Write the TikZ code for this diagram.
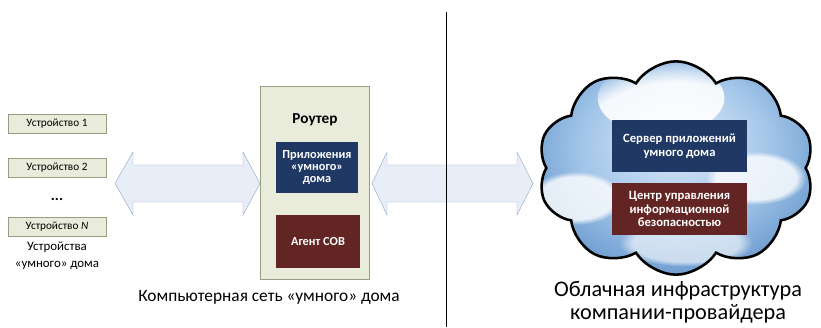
\documentclass[tikz,border=0pt]{standalone}
\usepackage{fontspec}
\setmainfont{Carlito}
\usepackage{xcolor}
\usetikzlibrary{shapes.geometric, shapes.symbols, positioning, calc, fadings}

\definecolor{devfill}{RGB}{233,236,218}
\definecolor{devdraw}{RGB}{150,158,130}
\definecolor{appblue}{RGB}{31,56,100}
\definecolor{secred}{RGB}{99,37,35}
\definecolor{arrfill}{RGB}{232,238,247}
\definecolor{arrdraw}{RGB}{150,170,200}
\definecolor{cloudin}{RGB}{225,236,248}
\definecolor{cloudmid}{RGB}{160,196,232}
\definecolor{cloudout}{RGB}{95,145,200}

\pgfdeclareradialshading{cloudshade}{\pgfpoint{0bp}{8bp}}{color(0bp)=(cloudin); color(18bp)=(cloudmid); color(32bp)=(cloudout); color(50bp)=(cloudout)}

\begin{document}
\begin{tikzpicture}[
    x=0.03cm, y=-0.03cm,
    node distance=0.72cm,
    device/.style={rectangle, draw=devdraw, fill=devfill, minimum width=2.94cm, minimum height=0.57cm, inner sep=0pt, font=\fontsize{9.6}{10}\selectfont},
    router/.style={rectangle, draw=devdraw, fill=devfill, minimum width=3.27cm, minimum height=5.79cm},
    app/.style={rectangle, fill=appblue, text=white, inner sep=0pt, align=center, font=\bfseries\fontsize{10.5}{10}\selectfont},
    sec/.style={rectangle, fill=secred, text=white, inner sep=0pt, align=center, font=\bfseries\fontsize{10.5}{10}\selectfont},
    link/.style={draw=arrdraw, fill=arrfill, thin},
    puff/.style={white, path fading=circle with fuzzy edge 20 percent},
    caption/.style={align=center}
]
\useasboundingbox (0,0) rectangle (821,327);

% smart home devices
\node[device] (dev1) at (57,124) {Устройство 1};
\node[device, below=of dev1] (dev2) {Устройство 2};
\node[font=\bfseries\fontsize{13}{14}\selectfont] (dots) at (57,199) {...};
\node[device] (devN) at (57,226.5) {Устройство \textit{N}};
\node[align=center, font=\fontsize{11}{14}\selectfont, below=0.05cm of devN] (devlabel) {Устройства\\«умного» дома};

% router
\node[router] (router) at (314.5,182.5) {};
\node[font=\bfseries\fontsize{13}{14}\selectfont] (routerlabel) at (315,120) {Роутер};
\node[app, minimum width=2.46cm, minimum height=1.53cm] (apps) at (317,167.5) {Приложения\\«умного»\\дома};
\node[sec, minimum width=2.5cm, minimum height=1.59cm] (agent) at (318,241.5) {Агент СОВ};

% cloud
\node[cloud, cloud puffs=10, cloud puff arc=115, cloud ignores aspect, minimum width=8.3cm, minimum height=6.4cm,
      draw=black, line width=2.2pt, shading=cloudshade,
      path picture={
        \fill[puff, opacity=0.9] ($(path picture bounding box.center)+(-15,-70)$) ellipse (1.9cm and 1.1cm);
        \fill[puff, opacity=0.8] ($(path picture bounding box.center)+(80,10)$) ellipse (1.5cm and 0.8cm);
        \fill[puff, opacity=0.8] ($(path picture bounding box.center)+(-100,30)$) ellipse (1.4cm and 0.8cm);
        \fill[puff, opacity=0.6] ($(path picture bounding box.center)+(10,75)$) ellipse (2cm and 0.7cm);
      }] (cloud) at (676,168) {};
\node[app, font=\bfseries\fontsize{10.8}{11.5}\selectfont, minimum width=4.05cm, minimum height=1.56cm] (server) at (679.5,146) {Сервер приложений\\умного дома};
\node[sec, font=\bfseries\fontsize{10.8}{11.5}\selectfont, minimum width=4.05cm, minimum height=1.56cm] (center) at (679.5,209) {Центр управления\\информационной\\безопасностью};

% links
\coordinate (l1) at (115,183.5);
\coordinate (l2) at (260,183.5);
\coordinate (r1) at (372,183.5);
\coordinate (r2) at (533,183.5);
\draw[link] (l1) -- ++(18,-31.5) -- ++(0,13) -- ($(l2)+(-17,-18.5)$) -- ++(0,-13) -- (l2)
    -- ++(-17,31.5) -- ++(0,-13) -- ($(l1)+(18,18.5)$) -- ++(0,13) -- cycle;
\draw[link] (r1) -- ++(15,-31.5) -- ++(0,13) -- ($(r2)+(-16,-18.5)$) -- ++(0,-13) -- (r2)
    -- ++(-16,31.5) -- ++(0,-13) -- ($(r1)+(15,18.5)$) -- ++(0,13) -- cycle;

% divider
\coordinate (divtop) at (446,12);
\coordinate (divbot) at (446,327);
\draw[thin] (divtop) -- (divbot);

% captions
\node[caption, font=\fontsize{14.8}{20}\selectfont] (netlabel) at (269,297) {Компьютерная сеть «умного» дома};
\node[caption, font=\fontsize{19}{19.5}\selectfont] (cloudlabel) at (678,302.5) {Облачная инфраструктура\\компании-провайдера};

\end{tikzpicture}
\end{document}
